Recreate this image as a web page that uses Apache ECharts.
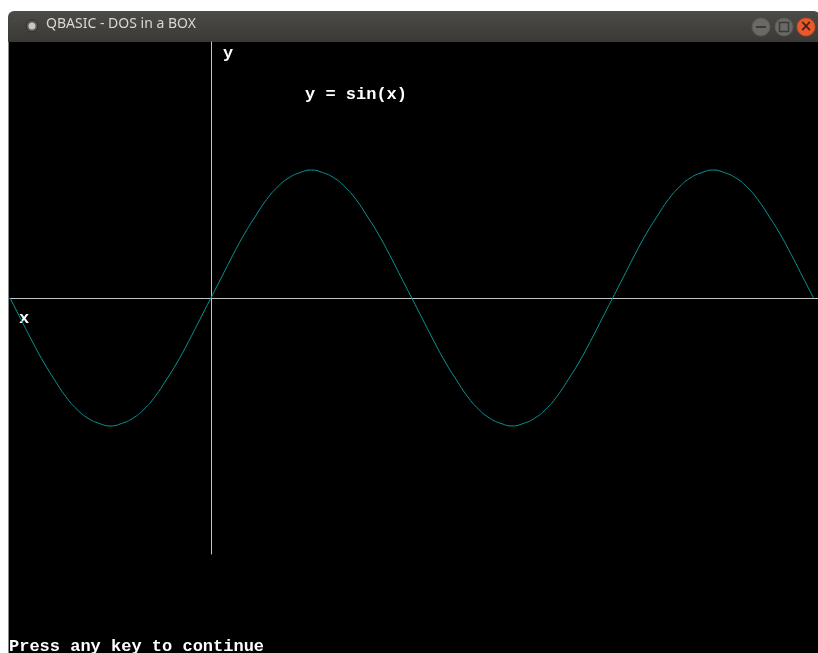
<!DOCTYPE html>
<html>
<head>
<meta charset="utf-8">
<title>QBASIC - DOS in a BOX</title>
<script src="https://cdn.jsdelivr.net/npm/echarts@6/dist/echarts.min.js"></script>
<style>
  html, body { margin: 0; padding: 0; background: #fff; }
  #chart { width: 818px; height: 653px; }
</style>
</head>
<body>
<div id="chart"></div>
<script>
// angle in degrees (one half period = 180)
const angles = [
  -180, -170, -160, -150, -140, -130, -120, -110, -100, -90, -80, -70, -60, -50, -40, -30, -20, -10,
  0, 10, 20, 30, 40, 50, 60, 70, 80, 90, 100, 110, 120, 130, 140, 150, 160, 170,
  180, 190, 200, 210, 220, 230, 240, 250, 260, 270, 280, 290, 300, 310, 320, 330, 340, 350,
  360, 370, 380, 390, 400, 410, 420, 430, 440, 450, 460, 470, 480, 490, 500, 510, 520, 530, 540
]
// y values (peak = 1, trough = -1)
const yValues = [
  0, -0.17, -0.34, -0.5, -0.64, -0.77, -0.87, -0.94, -0.98, -1, -0.98, -0.94, -0.87, -0.77, -0.64, -0.5, -0.34, -0.17,
  0, 0.17, 0.34, 0.5, 0.64, 0.77, 0.87, 0.94, 0.98, 1, 0.98, 0.94, 0.87, 0.77, 0.64, 0.5, 0.34, 0.17,
  0, -0.17, -0.34, -0.5, -0.64, -0.77, -0.87, -0.94, -0.98, -1, -0.98, -0.94, -0.87, -0.77, -0.64, -0.5, -0.34, -0.17,
  0, 0.17, 0.34, 0.5, 0.64, 0.77, 0.87, 0.94, 0.98, 1, 0.98, 0.94, 0.87, 0.77, 0.64, 0.5, 0.34, 0.17, 0
]
const windowTitle = 'QBASIC - DOS in a BOX'
const plotTitle = 'y = sin(x)'
const footer = 'Press any key to continue'

const chart = echarts.init(document.getElementById('chart'))
const dosFont = 'bold 17px "Liberation Mono", "DejaVu Sans Mono", monospace'

const option = {
  backgroundColor: '#ffffff',
  animation: false,
  grid: { left: 10, right: 0, top: 42, bottom: 99 },
  xAxis: {
    type: 'value',
    min: -180,
    max: 544,
    axisLine: { show: true, onZero: true, lineStyle: { color: '#c4c4c4', width: 1 } },
    axisTick: { show: false },
    axisLabel: { show: false },
    splitLine: { show: false }
  },
  yAxis: {
    type: 'value',
    min: -2,
    max: 2,
    axisLine: { show: true, onZero: true, lineStyle: { color: '#c4c4c4', width: 1 } },
    axisTick: { show: false },
    axisLabel: { show: false },
    splitLine: { show: false }
  },
  graphic: [
    // screen
    { type: 'rect', z: -10, silent: true, shape: { x: 9, y: 42, width: 809, height: 611 }, style: { fill: '#000' } },
    { type: 'rect', z: -10, silent: true, shape: { x: 8, y: 42, width: 1, height: 611 }, style: { fill: '#8a8a8a' } },
    // title bar
    {
      type: 'rect', z: -10, silent: true,
      shape: { x: 8, y: 11, width: 812, height: 31, r: [6, 6, 0, 0] },
      style: {
        fill: new echarts.graphic.LinearGradient(0, 0, 0, 1, [
          { offset: 0, color: '#4c4b47' },
          { offset: 1, color: '#3a3935' }
        ])
      }
    },
    { type: 'circle', silent: true, shape: { cx: 32, cy: 26, r: 6 }, style: { fill: '#5a5955', stroke: '#2e2d2a', lineWidth: 1 } },
    { type: 'circle', silent: true, shape: { cx: 32, cy: 26, r: 3.5 }, style: { fill: '#c9c7c2' } },
    {
      type: 'text', silent: true, left: 46, top: 17,
      style: { text: windowTitle, fill: '#dcd8cf', font: '14px "Noto Sans", "DejaVu Sans", sans-serif' }
    },
    { type: 'circle', silent: true, shape: { cx: 761, cy: 27, r: 9 }, style: { fill: '#6a6965', stroke: '#5a5955' } },
    { type: 'rect', silent: true, shape: { x: 756, y: 26, width: 10, height: 2 }, style: { fill: '#3c3b37' } },
    { type: 'circle', silent: true, shape: { cx: 784, cy: 27, r: 9 }, style: { fill: '#6a6965', stroke: '#5a5955' } },
    { type: 'rect', silent: true, shape: { x: 779.5, y: 22.5, width: 9, height: 9 }, style: { fill: 'none', stroke: '#3c3b37', lineWidth: 1.5 } },
    { type: 'circle', silent: true, shape: { cx: 806, cy: 27, r: 9 }, style: { fill: '#e9592c', stroke: '#c9471f' } },
    {
      type: 'text', silent: true, x: 806, y: 27,
      style: { text: '×', fill: '#4a1e10', font: 'bold 15px "DejaVu Sans", sans-serif', align: 'center', verticalAlign: 'middle' }
    },
    // labels drawn by the program
    { type: 'text', silent: true, x: 223, y: 54, style: { text: 'y', fill: '#fff', font: dosFont, verticalAlign: 'middle' } },
    { type: 'text', silent: true, x: 305, y: 95, style: { text: plotTitle, fill: '#fff', font: dosFont, verticalAlign: 'middle' } },
    { type: 'text', silent: true, x: 19, y: 319, style: { text: 'x', fill: '#fff', font: dosFont, verticalAlign: 'middle' } },
    { type: 'text', silent: true, x: 9, y: 647, style: { text: footer, fill: '#fff', font: dosFont, verticalAlign: 'middle' } }
  ],
  series: [
    {
      type: 'line',
      data: angles.map((a, i) => [a, yValues[i]]),
      smooth: true,
      showSymbol: false,
      lineStyle: { color: '#0b9494', width: 1 }
    }
  ]
}

chart.setOption(option)
</script>
</body>
</html>
